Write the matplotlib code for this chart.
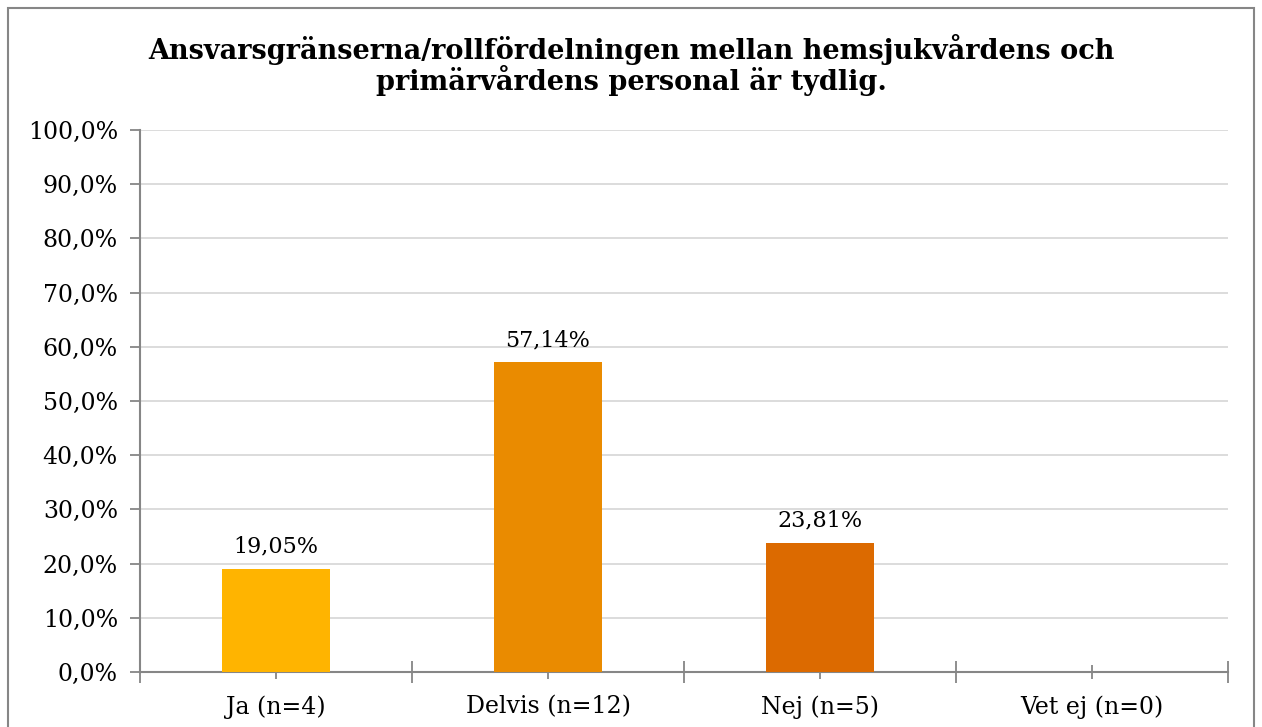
import matplotlib.pyplot as plt
from matplotlib.patches import Rectangle
from matplotlib.ticker import FixedLocator, FuncFormatter

# data
categories = ["Ja (n=4)", "Delvis (n=12)", "Nej (n=5)", "Vet ej (n=0)"]
values = [19.05, 57.14, 23.81, 0.0]
bar_colors = ["#FFB400", "#EA8B00", "#DC6A00", "#C85000"]
title = "Ansvarsgränserna/rollfördelningen mellan hemsjukvårdens och\nprimärvårdens personal är tydlig."

plt.rcParams['font.family'] = ['DejaVu Serif']

W, H = 1262, 727
fig = plt.figure(figsize=(W / 100, H / 100), dpi=100)
ax = fig.add_axes([140 / W, 1 - 672 / H, (1228 - 140) / W, (672 - 130) / H])

x = list(range(len(categories)))
ax.bar(x, values, width=0.4, color=bar_colors, zorder=3)

for xi, v in zip(x, values):
    if v > 0:
        ax.annotate(f"{v:.2f}%".replace(".", ","), (xi, v), xytext=(0, 8),
                    textcoords="offset points", ha="center", va="bottom",
                    fontsize=16, color="black")

ax.set_xlim(-0.5, len(categories) - 0.5)
ax.set_ylim(0, 100)
ax.set_yticks(range(0, 101, 10))
ax.yaxis.set_major_formatter(FuncFormatter(lambda v, p: f"{v:.1f}%".replace(".", ",")))
ax.set_xticks(x)
ax.set_xticklabels(categories)
ax.xaxis.set_minor_locator(FixedLocator([i - 0.5 for i in range(len(categories) + 1)]))

ax.grid(axis="y", color="#D9D9D9", linewidth=1.3, zorder=0)
for s in ["top", "right"]:
    ax.spines[s].set_visible(False)
for s in ["left", "bottom"]:
    ax.spines[s].set_color("#868686")
    ax.spines[s].set_linewidth(1.5)

ax.tick_params(axis="y", direction="out", length=7, width=1.3, color="#868686",
               labelsize=17, pad=9)
ax.tick_params(axis="x", which="major", direction="inout", length=10, width=1.3,
               color="#868686", labelsize=17, pad=12)
ax.tick_params(axis="x", which="minor", direction="inout", length=16, width=1.3,
               color="#868686")

fig.text(0.5, 1 - 65 / H, title, ha="center", va="center", fontsize=19.5,
         fontweight="bold", linespacing=1.0)

fig.patches.append(Rectangle((8 / W, -0.01), (1254 - 8) / W, 1 - 8 / H + 0.01,
                             transform=fig.transFigure, fill=False,
                             edgecolor="#868686", linewidth=1.5))

fig.savefig("out.png", dpi=100)
